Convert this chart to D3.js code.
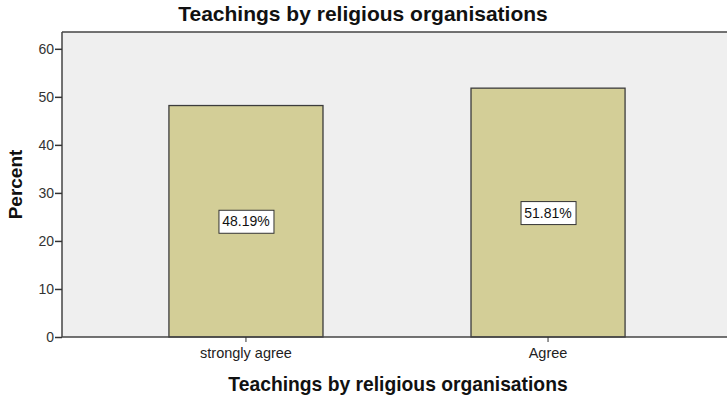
<!DOCTYPE html>
<html><head><meta charset="utf-8">
<script src="https://cdn.jsdelivr.net/npm/d3@7"></script>
<style>body{margin:0;background:#fff}svg{display:block}</style>
</head><body>
<script>
const categories = ["strongly agree", "Agree"];
const values = [48.19, 51.81];
const valueLabels = ["48.19%", "51.81%"];
const yTicks = [0, 10, 20, 30, 40, 50, 60];
const title = "Teachings by religious organisations";
const xTitle = "Teachings by religious organisations";
const yTitle = "Percent";

const W = 727, H = 400;
const m = {left: 62, top: 32, bottom: 337};
const FONT = "Liberation Sans, Arial, sans-serif";
const svg = d3.select("body").append("svg").attr("width", W).attr("height", H);

const y = d3.scaleLinear().domain([0, 63.5]).range([m.bottom, m.top]);
const x = d3.scaleBand().domain(categories).range([m.left, 732]).paddingInner(0.49).paddingOuter(0.354);

svg.append("rect").attr("x", m.left).attr("y", m.top).attr("width", W - m.left).attr("height", m.bottom - m.top).attr("fill", "#efefef");

svg.selectAll(".bar").data(values).enter().append("rect")
  .attr("x", (d, i) => x(categories[i]))
  .attr("y", d => y(d))
  .attr("width", x.bandwidth())
  .attr("height", d => y(0) - y(d))
  .attr("fill", "#d3ce97").attr("stroke", "#3c3c3c").attr("stroke-width", 1.3);

// frame: top
svg.append("line").attr("x1", m.left).attr("x2", W).attr("y1", m.top).attr("y2", m.top).attr("stroke", "#444").attr("stroke-width", 1.3);

const yAxis = svg.append("g").attr("transform", `translate(${m.left},0)`)
  .call(d3.axisLeft(y).tickValues(yTicks).tickSize(7).tickPadding(1));
yAxis.select(".domain").attr("stroke", "#444").attr("stroke-width", 1.5).attr("d", `M0,${m.top}V${m.bottom}`);
yAxis.selectAll(".tick line").attr("stroke", "#333").attr("stroke-width", 1.5);
yAxis.selectAll("text").attr("font-family", FONT).attr("font-size", 14).attr("fill", "#333");

const xAxis = svg.append("g").attr("transform", `translate(0,${m.bottom})`)
  .call(d3.axisBottom(x).tickSize(5).tickPadding(6));
xAxis.select(".domain").attr("stroke", "#444").attr("stroke-width", 1.5).attr("d", `M${m.left},0H${W}`);
xAxis.selectAll(".tick line").attr("stroke", "#333");
xAxis.selectAll("text").attr("font-family", FONT).attr("font-size", 14.5).attr("fill", "#222");

// value labels
const lab = svg.selectAll(".lab").data(values).enter().append("g")
  .attr("transform", (d, i) => `translate(${x(categories[i]) + x.bandwidth() / 2},${y(d / 2)})`);
lab.append("rect").attr("x", -27).attr("y", -11).attr("width", 55).attr("height", 23)
  .attr("fill", "#fff").attr("stroke", "#333").attr("stroke-width", 1);
lab.append("text").text((d, i) => valueLabels[i]).attr("text-anchor", "middle").attr("dy", "0.36em")
  .attr("font-family", FONT).attr("font-size", 14).attr("fill", "#111");

svg.append("text").text(title).attr("x", 363).attr("y", 21).attr("text-anchor", "middle")
  .attr("font-family", FONT).attr("font-weight", "bold").attr("font-size", 21).attr("fill", "#111");
svg.append("text").text(xTitle).attr("x", 398).attr("y", 391).attr("text-anchor", "middle")
  .attr("font-family", FONT).attr("font-weight", "bold").attr("font-size", 19.3).attr("fill", "#111");
svg.append("text").text(yTitle).attr("transform", `translate(22,${(m.top + m.bottom) / 2}) rotate(-90)`).attr("text-anchor", "middle")
  .attr("font-family", FONT).attr("font-weight", "bold").attr("font-size", 19).attr("fill", "#111");
</script>
</body></html>
